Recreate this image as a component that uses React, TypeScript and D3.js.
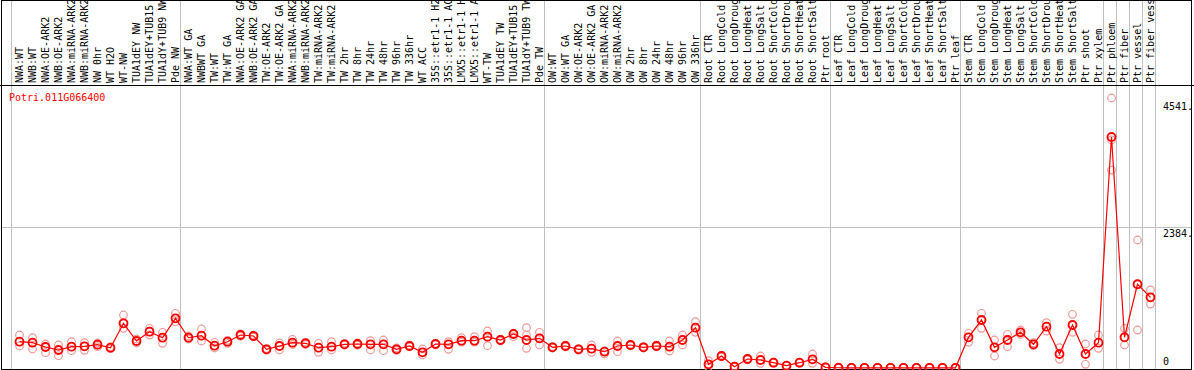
import React from "react";
import * as d3 from "d3";

const geneId = "Potri.011G066400";

const categories = [
  "NWA:WT", "NWB:WT", "NWA:OE-ARK2", "NWB:OE-ARK2", "NWA:miRNA-ARK2", "NWB:miRNA-ARK2",
  "NW 0hr", "WT H2O", "WT-NW", "TUA1dEY NW", "TUA1dEY+TUB15 NW", "TUA1dY+TUB9 NW", "Pde NW",
  "NWA:WT GA", "NWBWT GA", "TW:WT", "TW:WT GA", "NWA:OE-ARK2 GA", "NWB:OE-ARK2 GA",
  "TW:OE-ARK2", "TW:OE-ARK2 GA", "NWA:miRNA-ARK2", "NWB:miRNA-ARK2", "TW:miRNA-ARK2",
  "TW:miRNA-ARK2", "TW 2hr", "TW 8hr", "TW 24hr", "TW 48hr", "TW 96hr", "TW 336hr", "WT ACC",
  "35S::etr1-1 H2O", "35S::etr1-1 ACC", "LMX5::etr1-1 H2O", "LMX5::etr1-1 ACC", "WT-TW",
  "TUA1dEY TW", "TUA1dEY+TUB15 TW", "TUA1dY+TUB9 TW", "Pde TW",
  "OW:WT", "OW:WT GA", "OW:OE-ARK2", "OW:OE-ARK2 GA", "OW:miRNA-ARK2", "OW:miRNA-ARK2",
  "OW 2hr", "OW 8hr", "OW 24hr", "OW 48hr", "OW 96hr", "OW 336hr",
  "Root CTR", "Root LongCold", "Root LongDrought", "Root LongHeat", "Root LongSalt",
  "Root ShortCold", "Root ShortDrought", "Root ShortHeat", "Root ShortSalt", "Ptr root",
  "Leaf CTR", "Leaf LongCold", "Leaf LongDrought", "Leaf LongHeat", "Leaf LongSalt",
  "Leaf ShortCold", "Leaf ShortDrought", "Leaf ShortHeat", "Leaf ShortSalt", "Ptr leaf",
  "Stem CTR", "Stem LongCold", "Stem LongDrought", "Stem LongHeat", "Stem LongSalt",
  "Stem ShortCold", "Stem ShortDrought", "Stem ShortHeat", "Stem ShortSalt", "Ptr shoot",
  "Ptr xylem", "Ptr phloem", "Ptr fiber", "Ptr vessel", "Ptr fiber vessel",
];

const means = [
  447, 430, 357, 306, 362, 369, 396, 345, 760, 459, 617, 515, 845,
  515, 549, 379, 447, 561, 544, 318, 374, 430, 420, 345, 362, 403, 408, 403, 403, 318,
  374, 267, 408, 403, 464, 464, 532, 476, 578, 476, 505,
  352, 374, 318, 328, 277, 374, 391, 352, 374, 362, 476, 685,
  63, 204, 22, 153, 136, 90, 39, 90, 148, 12,
  4, 3, 3, 3, 3, 3, 3, 3, 3, 3,
  522, 816, 352, 476, 607, 403, 702, 238, 731, 238, 430,
  3929, 522, 1424, 1202,
];

const replicates = [
  [561, 447, 374], [515, 430, 323], [408, 357, 260], [391, 306, 209], [447, 362, 294],
  [430, 369, 301], [425, 396, 362], [360, 345, 330], [901, 760, 675], [493, 459, 425],
  [675, 617, 561], [607, 515, 420], [930, 845, 787],
  [544, 515, 493], [663, 549, 459], [437, 379, 340], [470, 447, 420], [580, 561, 540],
  [560, 544, 530], [330, 318, 305], [425, 374, 306], [488, 430, 400], [440, 420, 400],
  [420, 345, 267], [447, 362, 306], [420, 403, 390], [425, 408, 390], [464, 403, 306],
  [476, 403, 294], [340, 318, 300], [390, 374, 360], [323, 267, 221], [420, 408, 395],
  [447, 403, 318], [515, 464, 440], [532, 464, 440], [629, 532, 379], [490, 476, 460],
  [590, 578, 532], [685, 561, 335], [607, 505, 391],
  [365, 352, 340], [390, 374, 360], [330, 318, 305], [391, 328, 267], [290, 277, 238],
  [459, 374, 277], [405, 391, 378], [365, 352, 340], [390, 374, 360], [459, 362, 289],
  [561, 476, 391], [787, 685, 607],
  [124, 63, 20], [215, 204, 190], [30, 22, 15], [165, 153, 140], [204, 136, 80],
  [100, 90, 80], [45, 39, 33], [100, 90, 80], [238, 148, 80], [18, 12, 6],
  [5, 4, 3], [4, 3, 2], [4, 3, 2], [4, 3, 2], [4, 3, 2], [4, 3, 2], [4, 3, 2], [4, 3, 2], [4, 3, 2], [4, 3, 2],
  [590, 522, 437], [930, 816, 675], [476, 352, 204], [573, 476, 362], [646, 607, 570],
  [430, 403, 380], [770, 702, 629], [345, 238, 148], [913, 731, 607], [408, 238, 63],
  [561, 430, 335],
  [4592, 3878, 3367], [675, 522, 391], [2177, 1424, 646], [1327, 1202, 1088],
];

const yTickValues = [0, 2384, 4541];
const yTickLabels = ["0", "2384.", "4541."];
const groupBoundaries = [0, 13, 41, 53, 63, 73, 84, 85, 86, 87, 88];

const FONT = "'DejaVu Sans Mono', 'Liberation Mono', monospace";

export default function App() {
  const W = 1194;
  const H = 370;
  const left = 1;
  const right = 1191;
  const top = 0;
  const headerBottom = 85;
  const bottom = 369;

  const xb = d3.scaleLinear().domain([0, categories.length]).range([11, 11 + 13 * categories.length]);
  const px = (i: number) => xb(i) + 8.5;
  const y = d3.scaleLinear().domain([0, 4541]).range([368, 101]);

  const linePath = d3
    .line<number>()
    .x((_, i) => px(i))
    .y((d) => y(d))(means) || "";

  return (
    <svg
      width={W}
      height={H}
      style={{ position: "absolute", left: 0, top: 0, background: "#fff" }}
      xmlns="http://www.w3.org/2000/svg"
    >
      <defs>
        <clipPath id="hdr">
          <rect x={left} y={top + 1} width={right - left} height={headerBottom - top - 1} />
        </clipPath>
      </defs>
      <rect x={0} y={0} width={W} height={H} fill="#fff" />

      {/* vertical group gridlines */}
      {groupBoundaries.map((g) => (
        <line
          key={"g" + g}
          x1={xb(g)}
          x2={xb(g)}
          y1={top}
          y2={bottom}
          stroke="#c0c0c0"
          strokeWidth={1}
          shapeRendering="crispEdges"
        />
      ))}

      {/* horizontal gridline */}
      <line
        x1={left}
        x2={right}
        y1={y(2384)}
        y2={y(2384)}
        stroke="#c0c0c0"
        strokeWidth={1}
        shapeRendering="crispEdges"
      />

      {/* frame */}
      <rect
        x={left}
        y={top + 0.5}
        width={right - left}
        height={bottom - top - 0.5}
        fill="none"
        stroke="#000"
        strokeWidth={1}
        shapeRendering="crispEdges"
      />
      <line x1={0} x2={W} y1={headerBottom} y2={headerBottom} stroke="#000" strokeWidth={1} shapeRendering="crispEdges" />

      {/* header labels */}
      <g clipPath="url(#hdr)">
        {categories.map((c, i) => (
          <text
            key={"l" + i}
            transform={`translate(${px(i) + 3.5},${headerBottom - 2}) rotate(-90)`}
            fontFamily={FONT}
            fontSize={10}
            fill="#000"
          >
            {c}
          </text>
        ))}
      </g>

      {/* gene id */}
      <text x={9} y={101} fontFamily={FONT} fontSize={10} fill="#ff0000">
        {geneId}
      </text>

      {/* y labels */}
      {yTickValues.map((v, k) => (
        <text
          key={"t" + v}
          x={1163}
          y={v === 0 ? 365 : y(v) + 9}
          fontFamily={FONT}
          fontSize={10}
          fill="#000"
        >
          {yTickLabels[k]}
        </text>
      ))}

      {/* replicates */}
      {replicates.map((reps, i) =>
        reps.map((r, j) => (
          <circle
            key={`r${i}-${j}`}
            cx={px(i)}
            cy={y(r)}
            r={3.8}
            fill="none"
            stroke="#ee9999"
            strokeWidth={1.2}
          />
        ))
      )}

      {/* line */}
      <path d={linePath} fill="none" stroke="#ff0000" strokeWidth={1.2} />

      {/* means */}
      {means.map((m, i) => (
        <circle key={"m" + i} cx={px(i)} cy={y(m)} r={4} fill="none" stroke="#ff0000" strokeWidth={1.8} />
      ))}
    </svg>
  );
}
